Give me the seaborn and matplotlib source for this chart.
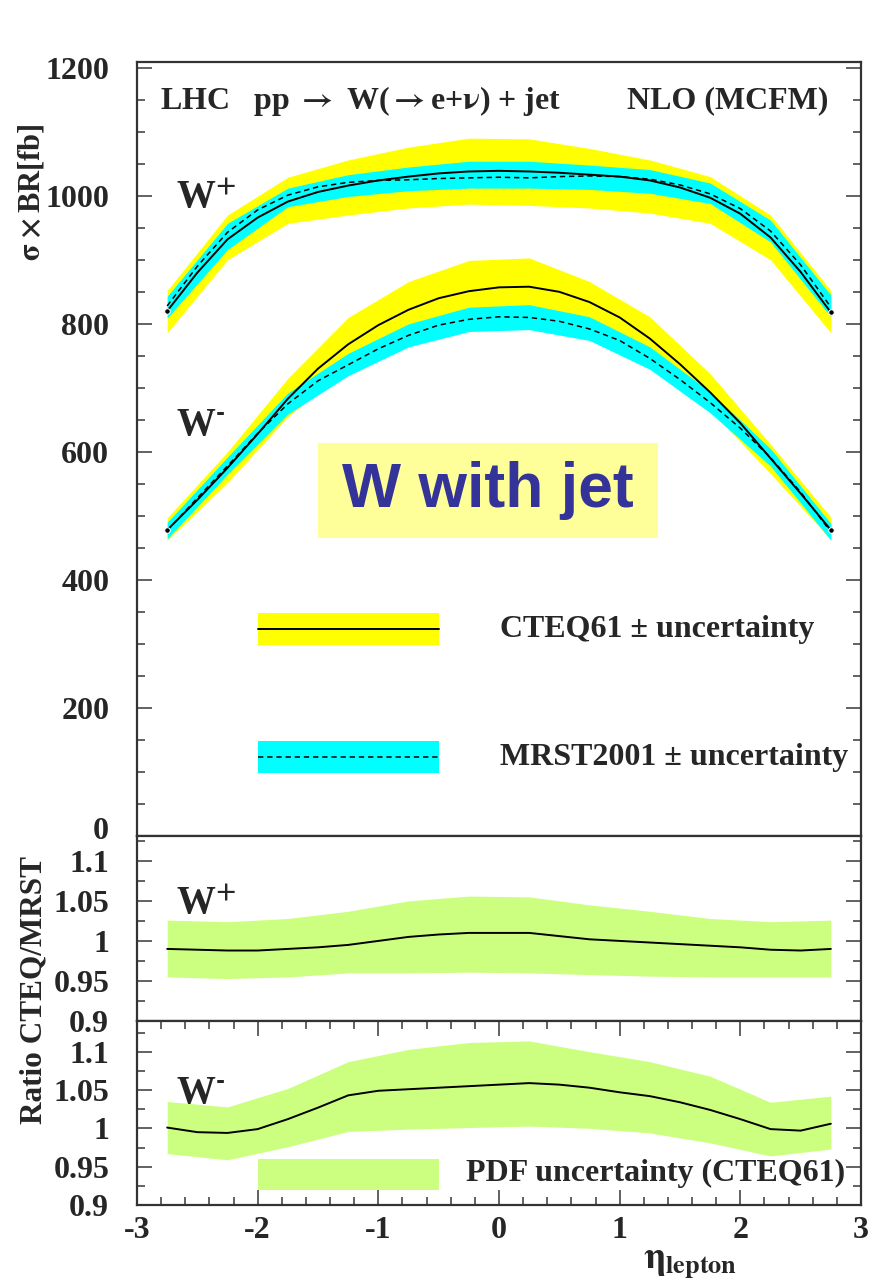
import matplotlib
matplotlib.use("Agg")
import matplotlib.pyplot as plt
from matplotlib.patches import Rectangle
from matplotlib.ticker import MultipleLocator, FuncFormatter
from matplotlib.transforms import ScaledTranslation
import numpy as np
import pandas as pd
import seaborn as sns

# ---------------------------------------------------------------- data
# lepton pseudorapidity: fine grid for central predictions, coarse grid for bands
eta_fine = [-2.75, -2.5, -2.25, -2.0, -1.75, -1.5, -1.25, -1.0, -0.75, -0.5, -0.25, 0.0,
            0.25, 0.5, 0.75, 1.0, 1.25, 1.5, 1.75, 2.0, 2.25, 2.5, 2.75]
eta_band = [-2.75, -2.25, -1.75, -1.25, -0.75, -0.25, 0.25, 0.75, 1.25, 1.75, 2.25, 2.75]

# sigma x BR [fb], central values
wp_cteq = [820, 880, 932, 966, 991, 1006, 1016, 1024, 1030, 1035, 1038, 1039,
           1038, 1036, 1033, 1030, 1024, 1013, 997, 972, 935, 881, 818]
wp_mrst = [828, 890, 943, 978, 1001, 1014, 1021, 1024, 1025, 1027, 1028, 1029,
           1028, 1030, 1031, 1030, 1026, 1017, 1003, 980, 945, 892, 826]
wm_cteq = [478, 525, 575, 628, 683, 730, 768, 798, 822, 840, 851, 857,
           858, 850, 834, 810, 777, 737, 693, 645, 590, 535, 478]
wm_mrst = [477, 528, 578, 629, 675, 711, 736, 761, 782, 798, 807, 811,
           810, 804, 792, 774, 746, 713, 677, 637, 591, 537, 475]

# PDF uncertainty envelopes [fb]
wp_cteq_hi = [852, 970, 1029, 1056, 1076, 1090, 1089, 1074, 1056, 1030, 970, 852]
wp_cteq_lo = [786, 900, 957, 970, 981, 987, 985, 981, 973, 957, 900, 786]
wp_mrst_hi = [843, 957, 1012, 1033, 1045, 1054, 1054, 1048, 1041, 1020, 962, 845]
wp_mrst_lo = [809, 916, 983, 999, 1008, 1012, 1012, 1010, 1004, 988, 928, 811]
wm_cteq_hi = [497, 600, 715, 810, 866, 899, 903, 866, 811, 722, 612, 498]
wm_cteq_lo = [462, 552, 655, 733, 783, 808, 812, 790, 742, 665, 566, 463]
wm_mrst_hi = [490, 592, 692, 754, 800, 826, 830, 811, 764, 694, 605, 488]
wm_mrst_lo = [464, 565, 659, 719, 764, 788, 791, 774, 729, 661, 578, 462]

# ratio CTEQ/MRST and its CTEQ61 PDF uncertainty
ratio_wp = [0.990, 0.989, 0.988, 0.988, 0.990, 0.992, 0.995, 1.000, 1.005, 1.008, 1.010, 1.010,
            1.010, 1.006, 1.002, 1.000, 0.998, 0.996, 0.994, 0.992, 0.989, 0.988, 0.990]
ratio_wm = [1.001, 0.995, 0.994, 0.999, 1.012, 1.027, 1.043, 1.049, 1.051, 1.053, 1.055, 1.057,
            1.059, 1.057, 1.053, 1.047, 1.042, 1.034, 1.024, 1.012, 0.999, 0.997, 1.006]
ratio_wp_hi = [1.026, 1.024, 1.028, 1.037, 1.050, 1.056, 1.055, 1.045, 1.037, 1.028, 1.024, 1.026]
ratio_wp_lo = [0.955, 0.953, 0.955, 0.960, 0.960, 0.961, 0.960, 0.958, 0.956, 0.955, 0.955, 0.955]
ratio_wm_hi = [1.035, 1.028, 1.052, 1.087, 1.103, 1.112, 1.114, 1.100, 1.087, 1.068, 1.034, 1.042]
ratio_wm_lo = [0.967, 0.959, 0.976, 0.996, 0.999, 1.001, 1.003, 1.000, 0.994, 0.981, 0.964, 0.973]

x_ticks = [-3, -2, -1, 0, 1, 2, 3]

# ---------------------------------------------------------------- style
sns.set_style("white")
plt.rcParams.update({
    "font.family": ["Liberation Serif", "DejaVu Serif"],
    "font.weight": "bold",
    "mathtext.fontset": "stix",
    "axes.linewidth": 1.6,
    "axes.edgecolor": "#333333",
})

YELLOW = "#ffff00"
CYAN = "#00ffff"
GREEN = "#ccff80"
TICK_C = "#555555"
TXT = 23

fig = plt.figure(figsize=(8.72, 12.87), dpi=100)
W, H = 872.0, 1287.0
L, R = 137, 861
ax_top = fig.add_axes([L / W, 1 - 836 / H, (R - L) / W, (836 - 62) / H])
ax_mid = fig.add_axes([L / W, 1 - 1021 / H, (R - L) / W, (1021 - 836) / H])
ax_bot = fig.add_axes([L / W, 1 - 1205 / H, (R - L) / W, (1205 - 1021) / H])

fine = pd.DataFrame({"eta": eta_fine, "wp_cteq": wp_cteq, "wp_mrst": wp_mrst,
                     "wm_cteq": wm_cteq, "wm_mrst": wm_mrst,
                     "r_wp": ratio_wp, "r_wm": ratio_wm})
band = pd.DataFrame({"eta": eta_band,
                     "wp_cteq_hi": wp_cteq_hi, "wp_cteq_lo": wp_cteq_lo,
                     "wp_mrst_hi": wp_mrst_hi, "wp_mrst_lo": wp_mrst_lo,
                     "wm_cteq_hi": wm_cteq_hi, "wm_cteq_lo": wm_cteq_lo,
                     "wm_mrst_hi": wm_mrst_hi, "wm_mrst_lo": wm_mrst_lo,
                     "r_wp_hi": ratio_wp_hi, "r_wp_lo": ratio_wp_lo,
                     "r_wm_hi": ratio_wm_hi, "r_wm_lo": ratio_wm_lo})

fmt = FuncFormatter(lambda v, p: f"{round(v, 3):g}")


def style_axis(ax, ymin, ymax, major, minor, xlabels):
    ax.set_xlim(-3, 3)
    ax.set_ylim(ymin, ymax)
    ax.set_xlabel("")
    ax.set_ylabel("")
    ax.yaxis.set_major_locator(MultipleLocator(major))
    ax.yaxis.set_minor_locator(MultipleLocator(minor))
    ax.yaxis.set_major_formatter(fmt)
    ax.tick_params(axis="y", which="both", direction="in", left=True, right=True,
                   color=TICK_C, width=1.3, labelsize=TXT, pad=20)
    ax.tick_params(axis="y", which="major", length=11)
    ax.tick_params(axis="y", which="minor", length=6)
    if xlabels:
        ax.set_xticks(x_ticks)
        ax.xaxis.set_minor_locator(MultipleLocator(0.2))
        ax.xaxis.set_major_formatter(fmt)
        ax.tick_params(axis="x", which="both", direction="in", bottom=True, top=True,
                       color=TICK_C, width=1.3, labelsize=TXT, pad=8)
        ax.tick_params(axis="x", which="major", length=11)
        ax.tick_params(axis="x", which="minor", length=6)
    else:
        ax.tick_params(axis="x", which="both", bottom=False, top=False, labelbottom=False)
    for s in ax.spines.values():
        s.set_color("#333333")
        s.set_linewidth(1.6)


# ---------------------------------------------------------------- top panel
ax = ax_top
for pre in ("wp", "wm"):
    ax.fill_between(band["eta"], band[f"{pre}_cteq_lo"], band[f"{pre}_cteq_hi"],
                    color=YELLOW, lw=0, zorder=1)
for pre in ("wp", "wm"):
    ax.fill_between(band["eta"], band[f"{pre}_mrst_lo"], band[f"{pre}_mrst_hi"],
                    color=CYAN, lw=0, zorder=2)
for pre in ("wp", "wm"):
    sns.lineplot(data=fine, x="eta", y=f"{pre}_cteq", ax=ax, color="black", lw=1.4,
                 marker="o", markersize=4, markevery=[0, len(eta_fine) - 1], zorder=4)
    sns.lineplot(data=fine, x="eta", y=f"{pre}_mrst", ax=ax, color="black", lw=1.1,
                 linestyle=(0, (3.5, 2.5)), zorder=3)

style_axis(ax, 0, 1209, 200, 50, False)

ax.text(-2.81, 1148, r"LHC   pp $\rightarrow$ W($\rightarrow$e+$\mathrm{\nu}$) + jet",
        fontsize=TXT, ha="left", va="center")
ax.text(2.73, 1148, "NLO (MCFM)", fontsize=TXT, ha="right", va="center")
ax.text(-2.68, 981, r"W$^{\mathbf{+}}$", fontsize=28, ha="left", va="baseline")
ax.text(-2.68, 627, r"W$^{\text{-}}$", fontsize=28, ha="left", va="baseline")

# process label box
ax.add_patch(Rectangle((-1.5, 466), 2.817, 148, facecolor="#ffff99", edgecolor="none", zorder=5))
ax.text(-0.09, 540, "W with jet", fontsize=45, color="#333399", ha="center", va="center",
        family=["Liberation Sans", "DejaVu Sans"], fontweight="bold", zorder=6)

# key
ax.add_patch(Rectangle((-2.0, 298), 1.5, 50, facecolor=YELLOW, edgecolor="none"))
ax.plot([-2.0, -0.5], [323, 323], color="black", lw=1.4)
ax.text(0.01, 322, "CTEQ61 \u00b1 uncertainty", fontsize=TXT, ha="left", va="center")
ax.add_patch(Rectangle((-2.0, 98), 1.5, 50, facecolor=CYAN, edgecolor="none"))
ax.plot([-2.0, -0.5], [123, 123], color="black", lw=1.1, linestyle=(0, (3.5, 2.5)))
ax.text(0.01, 122, "MRST2001 \u00b1 uncertainty", fontsize=TXT, ha="left", va="center")

# ---------------------------------------------------------------- ratio panels
ax = ax_mid
ax.fill_between(band["eta"], band["r_wp_lo"], band["r_wp_hi"], color=GREEN, lw=0, zorder=1)
sns.lineplot(data=fine, x="eta", y="r_wp", ax=ax, color="black", lw=1.4, zorder=3)
style_axis(ax, 0.9, 1.131, 0.05, 0.025, False)
ax.text(-2.68, 1.034, r"W$^{\mathbf{+}}$", fontsize=28, ha="left", va="baseline")

ax = ax_bot
ax.fill_between(band["eta"], band["r_wm_lo"], band["r_wm_hi"], color=GREEN, lw=0, zorder=1)
sns.lineplot(data=fine, x="eta", y="r_wm", ax=ax, color="black", lw=1.4, zorder=3)
style_axis(ax, 0.9, 1.140, 0.05, 0.025, True)
ax.text(-2.68, 1.033, r"W$^{\text{-}}$", fontsize=28, ha="left", va="baseline")
ax.add_patch(Rectangle((-2.0, 0.9196), 1.5, 0.0404, facecolor=GREEN, edgecolor="none"))
ax.text(-0.27, 0.9418, "PDF uncertainty (CTEQ61)", fontsize=TXT, ha="left", va="center")

# lift the "0" of the cross-section axis clear of the ratio axis labels
fig.canvas.draw()
for lbl in ax_top.get_yticklabels():
    if lbl.get_text() == "0":
        lbl.set_transform(lbl.get_transform() + ScaledTranslation(0, 6 / 72, fig.dpi_scale_trans))

# ---------------------------------------------------------------- axis titles
fig.text(32 / W, 1 - 192 / H, r"$\mathrm{\sigma\times}$BR[fb]", fontsize=22,
         rotation=90, ha="center", va="center")
fig.text(34 / W, 1 - 990 / H, "Ratio CTEQ/MRST", fontsize=22.5,
         rotation=90, ha="center", va="center")
fig.text(690 / W, 1 - 1262 / H, r"$\mathrm{\eta}_{\mathbf{lepton}}$", fontsize=27,
         ha="center", va="center")

fig.savefig("out.png", dpi=100, facecolor="white")
